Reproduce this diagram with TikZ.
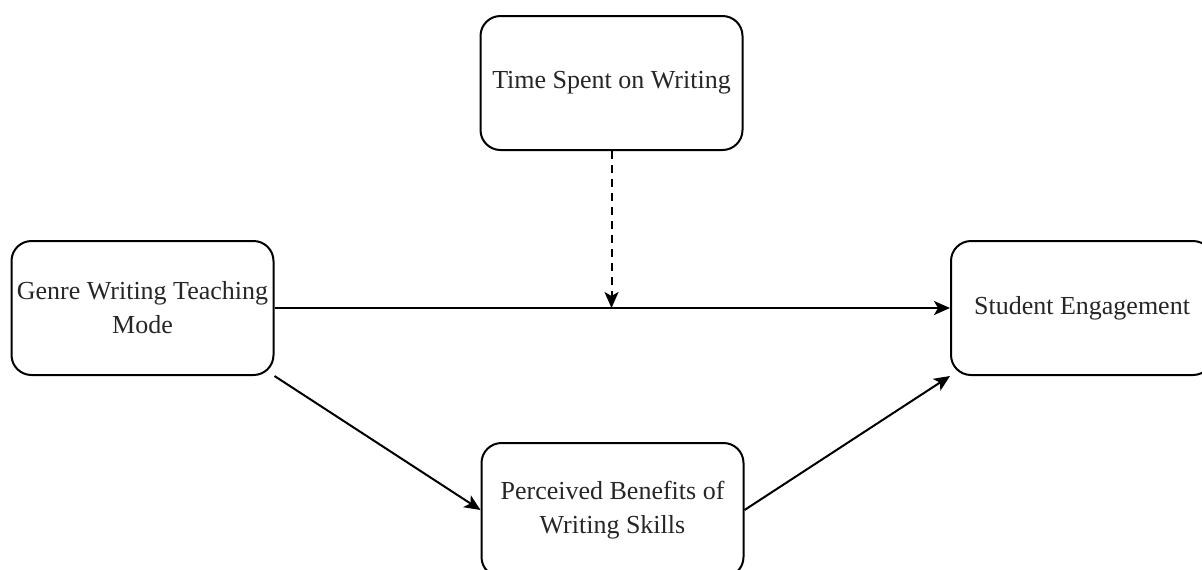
\documentclass[tikz,border=0pt]{standalone}
\usepackage{fontspec}
\setmainfont{Liberation Serif}
\usetikzlibrary{arrows.meta, positioning}

\tikzset{
  box/.style={draw, rounded corners=10pt, line width=1pt, minimum width=131pt,
    minimum height=67pt, align=center, inner sep=2pt, text=black!85,
    font=\fontsize{13}{17}\selectfont},
  link/.style={-{Stealth[length=8pt,width=7pt,inset=2pt]}, line width=1pt},
}

\begin{document}
\begin{tikzpicture}[x=0.5pt,y=-0.5pt]
        \clip (0,0) rectangle (1202,569);
        \node[box] (time) at (611.5,83) {Time Spent on Writing};
        \node[box] (genre) at (142.5,308) {Genre Writing Teaching\\Mode};
        \node[box] (engage) at (1082,308) {Student Engagement};
        \node[box] (benefit) at (612.5,510) {Perceived Benefits of\\Writing Skills};
        \coordinate (mod) at (time.south |- genre.east);
        \draw[link] (genre.east) -- (engage.west);
        \draw[link, dash pattern=on 4pt off 3pt] (time.south) -- (mod);
        \draw[link] (genre.south east) -- (benefit.west);
        \draw[link] (benefit.east) -- (engage.south west);
\end{tikzpicture}
\end{document}
